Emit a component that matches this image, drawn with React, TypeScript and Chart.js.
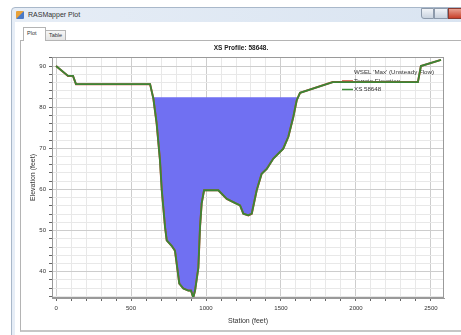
import React, { useEffect, useRef } from "react";
import { Chart, registerables } from "chart.js";

Chart.register(...registerables);

// ---- data ----
const stations = [0, 80, 113, 133, 627, 649, 671, 693, 705, 727, 738, 771, 793, 822, 849, 882, 900, 915, 927, 949, 960, 971, 987, 1082, 1138, 1182, 1227, 1249, 1282, 1305, 1338, 1371, 1405, 1449, 1515, 1549, 1582, 1605, 1627, 1845, 2413, 2433, 2567];
const terrainElev = [90, 87.6, 87.6, 85.6, 85.6, 82.1, 76.0, 67.1, 59.8, 50.8, 47.6, 46.3, 45.1, 37.1, 35.9, 35.4, 35.4, 33.7, 35.4, 41.0, 50.8, 56.6, 59.8, 59.8, 57.7, 56.9, 56.1, 54.1, 53.7, 54.1, 59.8, 63.8, 65.0, 67.5, 69.9, 72.8, 77.6, 81.7, 83.5, 86.1, 86.1, 90, 91.5];
const wselStations = [647, 1614];
const wselElev = [82.4, 82.4];
const xMajorTicks = [0, 500, 1000, 1500, 2000, 2500];
const yMajorTicks = [40, 50, 60, 70, 80, 90];
const xMinorStep = 100;
const yMinorStep = 2;
const xRange = [-27, 2587];
const yRange = [33.6, 92.2];
const seriesNames = ["WSEL 'Max' (Unsteady Flow)", "Terrain Elevation", "XS 58648"];
const chartTitle = "XS Profile: 58648.";
const xTitle = "Station (feet)";
const yTitle = "Elevation (feet)";

const FONT = '"Liberation Sans", Arial, sans-serif';

const overlayPlugin = {
  id: "overlay",
  beforeDatasetsDraw(chart: any) {
    const { ctx } = chart;
    ctx.save();
    ctx.font = `6.2px ${FONT}`;
    ctx.fillStyle = "#333";
    ctx.textAlign = "left";
    ctx.textBaseline = "middle";
    const lx = 354;
    const ys = [72, 81, 89.5];
    ctx.fillText(seriesNames[0], lx, ys[0]);
    ctx.fillText(seriesNames[1], lx, ys[1]);
    ctx.fillText(seriesNames[2], lx, ys[2]);
    ctx.lineWidth = 1.5;
    ctx.strokeStyle = "#d04535";
    ctx.beginPath();
    ctx.moveTo(342, ys[1]);
    ctx.lineTo(353, ys[1]);
    ctx.stroke();
    ctx.strokeStyle = "#3e8e3a";
    ctx.beginPath();
    ctx.moveTo(342, ys[2]);
    ctx.lineTo(353, ys[2]);
    ctx.stroke();
    ctx.restore();
  },
  afterDraw(chart: any) {
    const { ctx, chartArea: a } = chart;
    ctx.save();
    ctx.strokeStyle = "#9a9a9a";
    ctx.lineWidth = 1;
    ctx.strokeRect(Math.round(a.left) + 0.5, Math.round(a.top) + 0.5, Math.round(a.right - a.left) - 1, Math.round(a.bottom - a.top) - 1);
    ctx.fillStyle = "#222";
    ctx.font = `bold 6.5px ${FONT}`;
    ctx.textAlign = "center";
    ctx.textBaseline = "middle";
    ctx.fillText(chartTitle, 241, 48);
    ctx.restore();
  },
};

function ChartCanvas() {
  const ref = useRef<HTMLCanvasElement | null>(null);
  useEffect(() => {
    if (!ref.current) return;
    const terrain = stations.map((x, i) => ({ x, y: terrainElev[i] }));
    const wsel = wselStations.map((x, i) => ({ x, y: wselElev[i] }));
    const chart = new Chart(ref.current, {
      type: "line",
      data: {
        datasets: [
          { label: seriesNames[2], data: terrain, borderColor: "#3a8636", borderWidth: 1.8, pointRadius: 0, fill: false, tension: 0 },
          { label: seriesNames[1], data: terrain, borderColor: "#d04535", borderWidth: 2, pointRadius: 0, fill: false, tension: 0 },
          { label: seriesNames[0], data: wsel, borderColor: "rgba(0,0,0,0)", borderWidth: 0, pointRadius: 0, fill: 1, backgroundColor: "#7070f2", tension: 0 },
        ],
      },
      options: {
        animation: false,
        responsive: false,
        devicePixelRatio: 1,
        events: [],
        layout: { padding: { left: 24, right: 17, top: 57, bottom: 7 } },
        plugins: { legend: { display: false }, title: { display: false }, tooltip: { enabled: false } },
        scales: {
          x: {
            type: "linear",
            min: xRange[0],
            max: xRange[1],
            afterBuildTicks: (axis: any) => {
              const t = [];
              for (let v = 0; v <= xRange[1]; v += xMinorStep) t.push({ value: v });
              axis.ticks = t;
            },
            afterFit: (s: any) => { s.height = 30; },
            ticks: {
              autoSkip: false,
              maxRotation: 0,
              padding: 4,
              color: "#333",
              font: { family: FONT, size: 6 },
              callback: (v: any) => (xMajorTicks.includes(v) ? String(v) : ""),
            },
            grid: {
              color: (c: any) => (c.tick && xMajorTicks.includes(c.tick.value) ? "#cdcdcd" : "#e8e8e8"),
              tickColor: "#666",
              tickLength: 3,
            },
            border: { display: true, color: "#9a9a9a" },
            title: { display: true, text: xTitle, color: "#333", font: { family: FONT, size: 7 }, padding: { top: 0, bottom: 3 } },
          },
          y: {
            type: "linear",
            min: yRange[0],
            max: yRange[1],
            afterBuildTicks: (axis: any) => {
              const t = [];
              for (let v = 34; v <= yRange[1]; v += yMinorStep) t.push({ value: v });
              axis.ticks = t;
            },
            afterFit: (s: any) => { s.width = 28; },
            ticks: {
              autoSkip: false,
              padding: 3,
              color: "#333",
              font: { family: FONT, size: 6 },
              callback: (v: any) => (yMajorTicks.includes(v) ? String(v) : ""),
            },
            grid: {
              color: (c: any) => (c.tick && yMajorTicks.includes(c.tick.value) ? "#cdcdcd" : "#e8e8e8"),
              tickColor: "#666",
              tickLength: 3,
            },
            border: { display: true, color: "#9a9a9a" },
            title: { display: true, text: yTitle, color: "#333", font: { family: FONT, size: 7 }, padding: { top: 5, bottom: 0 } },
          },
        },
      },
      plugins: [overlayPlugin],
    } as any);
    return () => chart.destroy();
  }, []);
  return <canvas ref={ref} width={461} height={335} style={{ position: "absolute", left: 0, top: 0, width: 461, height: 335 }} />;
}

export default function App() {
  const abs = (s: any) => ({ position: "absolute", ...s });
  return (
    <div style={{ position: "fixed", left: 0, top: 0, width: 461, height: 335, background: "#fff", overflow: "hidden", fontFamily: FONT }}>
      {/* window frame */}
      <div style={abs({ left: 11, top: 7, width: 470, height: 340, background: "linear-gradient(to right, #e6edf6, #d9e4f1)", border: "1px solid #a9b8ca", borderRadius: "4px 4px 0 0", boxSizing: "border-box" })} />
      {/* icon */}
      <div style={abs({ left: 16, top: 11, width: 8, height: 8, background: "linear-gradient(135deg, #e8a23a 0%, #e8a23a 45%, #4a7ac8 55%, #4a7ac8 100%)", borderRadius: 1 })} />
      <div style={abs({ left: 28, top: 10, fontSize: 7, color: "#333", lineHeight: "9px", whiteSpace: "nowrap" })}>RASMapper Plot</div>
      {/* caption buttons */}
      <div style={abs({ left: 421, top: 8, width: 13, height: 11, background: "linear-gradient(#f1f4f8,#c9d3df)", border: "1px solid #8d9aab", boxSizing: "border-box", borderRadius: "0 0 0 3px" })} />
      <div style={abs({ left: 434, top: 8, width: 14, height: 11, background: "linear-gradient(#f1f4f8,#c9d3df)", border: "1px solid #8d9aab", boxSizing: "border-box" })} />
      <div style={abs({ left: 448, top: 8, width: 20, height: 11, background: "linear-gradient(#e8a090,#c8402a)", border: "1px solid #8a3a30", boxSizing: "border-box" })} />
      {/* client area */}
      <div style={abs({ left: 15, top: 22, width: 460, height: 320, background: "#fff" })} />
      {/* tab page */}
      <div style={abs({ left: 20, top: 40, width: 460, height: 292, border: "1px solid #b4b4b4", borderBottom: "2px solid #c6c6c6", boxSizing: "border-box", background: "#fff" })} />
      {/* tabs */}
      <div style={abs({ left: 45, top: 30, width: 21, height: 10, border: "1px solid #b4b4b4", borderBottom: "none", background: "linear-gradient(#f6f6f6,#e4e4e4)", boxSizing: "border-box", fontSize: 5.5, lineHeight: "9px", textAlign: "center", color: "#333" })}>Table</div>
      <div style={abs({ left: 23, top: 27, width: 23, height: 14, border: "1px solid #b4b4b4", borderBottom: "none", background: "#fff", boxSizing: "border-box", fontSize: 5.5, lineHeight: "10px", paddingLeft: 3, color: "#333" })}>Plot</div>
      <ChartCanvas />
    </div>
  );
}
